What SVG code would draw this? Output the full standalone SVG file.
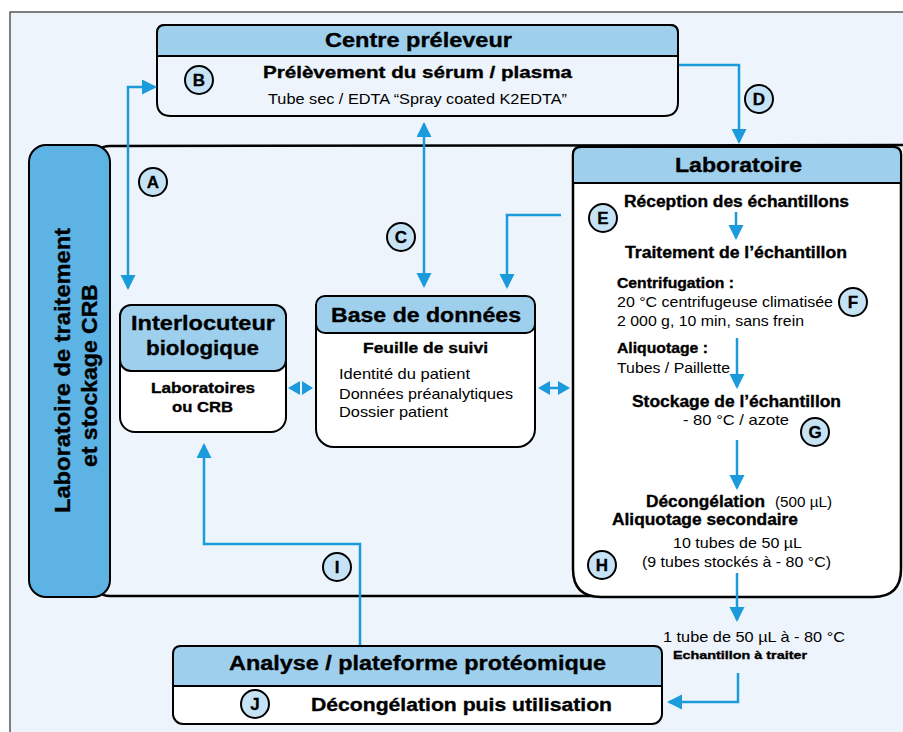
<svg xmlns="http://www.w3.org/2000/svg" width="903" height="732" viewBox="0 0 903 732">
<style>
text{font-family:"Liberation Sans",Arial,sans-serif;fill:#000}
.b{font-weight:bold;stroke:#000;stroke-width:0.35}
.r{font-weight:normal}
.box{stroke:#000;stroke-width:2}
.hd{fill:#9ED0EE}
.bd{fill:#EEF4FB}
.wt{fill:#FFFFFF}
.cn{fill:none;stroke:#1B9BDB;stroke-width:2.5}
.lbl circle{fill:#C6E3F6;stroke:#000;stroke-width:2}
.lbl text{font-weight:bold;font-size:17px;text-anchor:middle;stroke:#000;stroke-width:0.3}
.dbl{fill:#1B9BDB}
</style>
<defs>
<marker id="ah" markerUnits="userSpaceOnUse" markerWidth="15" markerHeight="16" refX="13" refY="7.5" orient="auto-start-reverse">
<path d="M0,0 L15,7.5 L0,15 Z" fill="#1B9BDB"/>
</marker>
</defs>

<rect x="10" y="12" width="905" height="735" fill="#EEF4FB" stroke="#555" stroke-width="1.5"/>

<!-- CRB region outline -->
<path id="crb-region" d="M96,160 Q96,146 110,146 L903,145 M96,160 V582 Q96,596 110,596 H600" fill="none" stroke="#000" stroke-width="2.5"/>

<g id="crb-bar">
<rect x="29" y="145" width="81" height="452" rx="17" fill="#5CB3E4" stroke="#000" stroke-width="2"/>
<text class="b" transform="rotate(-90)" x="-513" y="70" font-size="22" textLength="285" lengthAdjust="spacingAndGlyphs">Laboratoire de traitement</text>
<text class="b" transform="rotate(-90)" x="-467" y="97" font-size="22" textLength="183" lengthAdjust="spacingAndGlyphs">et stockage CRB</text>
</g>

<g id="centre-preleveur">
<path class="box bd" d="M165,25 H670 Q678,25 678,33 V102 Q678,116 664,116 H171 Q157,116 157,102 V33 Q157,25 165,25 Z"/>
<path class="box hd" d="M165,25 H670 Q678,25 678,33 V56 H157 V33 Q157,25 165,25 Z"/>
<text class="b" x="325" y="47" font-size="20" textLength="187" lengthAdjust="spacingAndGlyphs">Centre préleveur</text>
<text class="b" x="263" y="78" font-size="17" textLength="309" lengthAdjust="spacingAndGlyphs">Prélèvement du sérum / plasma</text>
<text class="r" x="268" y="104" font-size="15" textLength="299" lengthAdjust="spacingAndGlyphs">Tube sec / EDTA “Spray coated K2EDTA”</text>
</g>

<g id="laboratoire">
<path class="wt" stroke="#000" stroke-width="2.5" d="M581,147 H893 Q901,147 901,155 V569 Q901,597 873,597 H601 Q573,597 573,569 V155 Q573,147 581,147 Z"/>
<path class="box hd" d="M581,147 H893 Q901,147 901,155 V183 H573 V155 Q573,147 581,147 Z"/>
<text class="b" x="675" y="172" font-size="21" textLength="127" lengthAdjust="spacingAndGlyphs">Laboratoire</text>
<text class="b" x="624" y="207" font-size="16" textLength="225" lengthAdjust="spacingAndGlyphs">Réception des échantillons</text>
<text class="b" x="625" y="258" font-size="16" textLength="222" lengthAdjust="spacingAndGlyphs">Traitement de l’échantillon</text>
<text class="b" x="617" y="288" font-size="15" textLength="117" lengthAdjust="spacingAndGlyphs">Centrifugation :</text>
<text class="r" x="617" y="307" font-size="15" textLength="216" lengthAdjust="spacingAndGlyphs">20 °C centrifugeuse climatisée</text>
<text class="r" x="617" y="326" font-size="15" textLength="187" lengthAdjust="spacingAndGlyphs">2 000 g, 10 min, sans frein</text>
<text class="b" x="617" y="353" font-size="15" textLength="91" lengthAdjust="spacingAndGlyphs">Aliquotage :</text>
<text class="r" x="617" y="373" font-size="15" textLength="113" lengthAdjust="spacingAndGlyphs">Tubes / Paillette</text>
<text class="b" x="632" y="407" font-size="16" textLength="209" lengthAdjust="spacingAndGlyphs">Stockage de l’échantillon</text>
<text class="r" x="683" y="425" font-size="15" textLength="106" lengthAdjust="spacingAndGlyphs">- 80 °C / azote</text>
<text class="b" x="646" y="507" font-size="16" textLength="119" lengthAdjust="spacingAndGlyphs">Décongélation</text>
<text class="r" x="775" y="507" font-size="15" textLength="57" lengthAdjust="spacingAndGlyphs">(500 µL)</text>
<text class="b" x="612" y="525" font-size="16" textLength="186" lengthAdjust="spacingAndGlyphs">Aliquotage secondaire</text>
<text class="r" x="673" y="548" font-size="15" textLength="129" lengthAdjust="spacingAndGlyphs">10 tubes de 50 µL</text>
<text class="r" x="642" y="567" font-size="15" textLength="189" lengthAdjust="spacingAndGlyphs">(9 tubes stockés à - 80 °C)</text>
</g>

<g id="echantillon-a-traiter">
<text class="r" x="663" y="642" font-size="15" textLength="182" lengthAdjust="spacingAndGlyphs">1 tube de 50 µL à - 80 °C</text>
<text class="b" x="673" y="659" font-size="11.5" textLength="134" lengthAdjust="spacingAndGlyphs">Echantillon à traiter</text>
</g>

<g id="interlocuteur">
<rect class="box wt" x="120" y="305" width="166" height="127" rx="15"/>
<rect class="box hd" x="120" y="305" width="166" height="66" rx="11"/>
<text class="b" x="131" y="330" font-size="21" textLength="144" lengthAdjust="spacingAndGlyphs">Interlocuteur</text>
<text class="b" x="146" y="355" font-size="21" textLength="113" lengthAdjust="spacingAndGlyphs">biologique</text>
<text class="b" x="151" y="393" font-size="15" textLength="104" lengthAdjust="spacingAndGlyphs">Laboratoires</text>
<text class="b" x="172" y="412" font-size="15" textLength="61" lengthAdjust="spacingAndGlyphs">ou CRB</text>
</g>

<g id="base-de-donnees">
<rect class="box wt" x="316" y="296" width="219" height="151" rx="18"/>
<rect class="box hd" x="316" y="296" width="219" height="37" rx="9"/>
<text class="b" x="331" y="322" font-size="21" textLength="190" lengthAdjust="spacingAndGlyphs">Base de données</text>
<text class="b" x="363" y="353" font-size="15" textLength="125" lengthAdjust="spacingAndGlyphs">Feuille de suivi</text>
<text class="r" x="339" y="379" font-size="15" textLength="131" lengthAdjust="spacingAndGlyphs">Identité du patient</text>
<text class="r" x="339" y="399" font-size="15" textLength="174" lengthAdjust="spacingAndGlyphs">Données préanalytiques</text>
<text class="r" x="339" y="417" font-size="15" textLength="109" lengthAdjust="spacingAndGlyphs">Dossier patient</text>
</g>

<g id="analyse">
<rect class="box wt" x="173" y="646" width="489" height="78" rx="10"/>
<path class="box hd" d="M181,646 H654 Q662,646 662,654 V686 H173 V654 Q173,646 181,646 Z"/>
<text class="b" x="229" y="670" font-size="20" textLength="377" lengthAdjust="spacingAndGlyphs">Analyse / plateforme protéomique</text>
<text class="b" x="311" y="711" font-size="19" textLength="301" lengthAdjust="spacingAndGlyphs">Décongélation puis utilisation</text>
</g>

<g id="connectors">
<path class="cn" d="M155,87 H128 V288" marker-start="url(#ah)" marker-end="url(#ah)"/>
<path class="cn" d="M424,124 V286" marker-start="url(#ah)" marker-end="url(#ah)"/>
<path class="cn" d="M679,65 H739 V142" marker-end="url(#ah)"/>
<path class="cn" d="M561,215 H507 V287" marker-end="url(#ah)"/>
<path class="cn" d="M736,212 V238" marker-end="url(#ah)"/>
<path class="cn" d="M737,338 V387" marker-end="url(#ah)"/>
<path class="cn" d="M737,440 V488" marker-end="url(#ah)"/>
<path class="cn" d="M737,573 V620" marker-end="url(#ah)"/>
<path class="cn" d="M738,673 V702 H669" marker-end="url(#ah)"/>
<path class="cn" d="M360,645 V544 H204 V445" marker-end="url(#ah)"/>
<polygon class="dbl" points="288,388 300,381 300,395"/>
<polygon class="dbl" points="313,388 302,381 302,395"/>
<polygon class="dbl" points="538,388 550,381 550,395"/>
<polygon class="dbl" points="570,388 558,381 558,395"/>
<line x1="549" y1="388" x2="559" y2="388" stroke="#1B9BDB" stroke-width="2.5"/>
</g>

<g id="labels" class="lbl">
<g id="lbl-A"><circle cx="153" cy="182" r="14"/><text x="153" y="188">A</text></g>
<g id="lbl-B"><circle cx="199" cy="80" r="14"/><text x="199" y="86">B</text></g>
<g id="lbl-C"><circle cx="401" cy="237" r="14"/><text x="401" y="243">C</text></g>
<g id="lbl-D"><circle cx="759" cy="99" r="14"/><text x="759" y="105">D</text></g>
<g id="lbl-E"><circle cx="603" cy="218" r="14"/><text x="603" y="224">E</text></g>
<g id="lbl-F"><circle cx="853" cy="302" r="14"/><text x="853" y="308">F</text></g>
<g id="lbl-G"><circle cx="815" cy="432" r="14"/><text x="815" y="438">G</text></g>
<g id="lbl-H"><circle cx="602" cy="565" r="14"/><text x="602" y="571">H</text></g>
<g id="lbl-I"><circle cx="337" cy="567" r="14"/><text x="337" y="573">I</text></g>
<g id="lbl-J"><circle cx="255" cy="704" r="14"/><text x="255" y="710">J</text></g>
</g>
</svg>
